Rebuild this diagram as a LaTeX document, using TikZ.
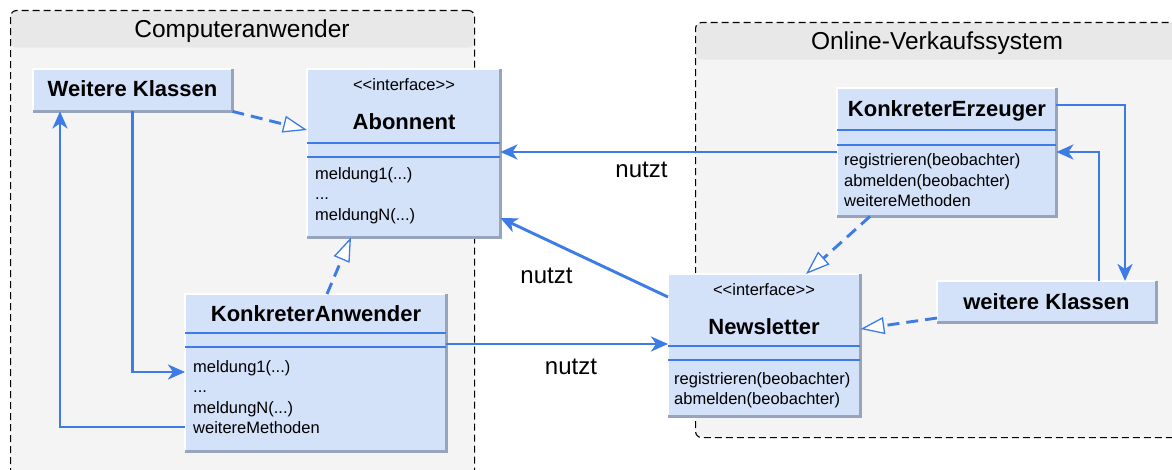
\documentclass[tikz,border=0pt]{standalone}
\usepackage{fontspec}
\setmainfont{Liberation Sans}
\usetikzlibrary{arrows.meta,calc}
\definecolor{conncol}{HTML}{3D7BE6}
\definecolor{boxfill}{HTML}{D3E1F9}
\definecolor{boxshade}{HTML}{98A4BC}
\definecolor{grouphead}{HTML}{E8E8E8}
\definecolor{groupbody}{HTML}{F4F4F4}
\begin{document}
\begin{tikzpicture}[x=1pt,y=-1pt,
  group/.style={draw=black, line width=1.1pt, dash pattern=on 7pt off 4pt, fill=groupbody,
    rounded corners=6pt, inner sep=0pt, anchor=north west,
    path picture={\fill[grouphead] (path picture bounding box.north west) rectangle ($(path picture bounding box.north east)+(0,37)$);}},
  grouptitle/.style={font=\fontsize{24.5}{28}\selectfont, anchor=base, inner sep=0pt},
  umlbox/.style={fill=boxfill, inner sep=0pt, anchor=north west},
  btitle/.style={font=\fontsize{22}{26}\selectfont\bfseries, anchor=base, inner sep=0pt},
  stereo/.style={font=\fontsize{16.5}{20}\selectfont, anchor=base, inner sep=0pt},
  meth/.style={font=\fontsize{16.5}{20}\selectfont, anchor=base west, inner sep=0pt},
  lbl/.style={font=\fontsize{24}{28}\selectfont, anchor=base, inner sep=0pt},
  sep/.style={draw=conncol, line width=1.4pt},
  link/.style={draw=conncol, line width=2.9pt},
  dep/.style={link, dash pattern=on 12pt off 7pt},
  filled/.style={-{Stealth[length=17pt,width=15pt,inset=5pt]}},
  hollow/.style={-{Triangle[open,length=24pt,width=17pt,line width=1.3pt,fill=white]}}
]
\useasboundingbox (0,0) rectangle (1172,470);

% groups
\node[group, minimum width=464pt, minimum height=490pt] (grpL) at (10,10) {};
\node[grouptitle] (grpLt) at (242,37.5) {Computeranwender};
\node[group, minimum width=490pt, minimum height=415pt] (grpR) at (695,22) {};
\node[grouptitle] (grpRt) at (937,50) {Online-Verkaufssystem};

% boxes
\node[umlbox, minimum width=199pt, minimum height=42pt] (wk) at (33,69) {};
\node[umlbox, minimum width=193pt, minimum height=168pt] (abo) at (307,69) {};
\node[umlbox, minimum width=261pt, minimum height=157pt] (ka) at (185,294) {};
\node[umlbox, minimum width=192pt, minimum height=142pt] (nl) at (668,274) {};
\node[umlbox, minimum width=219pt, minimum height=128pt] (ke) at (837,88) {};
\node[umlbox, minimum width=219pt, minimum height=41pt] (wk2) at (937,281) {};

\foreach \n in {wk,abo,ka,nl,ke,wk2}{
  \draw[white, line width=1.5pt] (\n.south west) -- (\n.north west) -- (\n.north east);
  \draw[boxshade, line width=2.5pt] (\n.north east) -- (\n.south east) -- (\n.south west);
}

% separators
\draw[sep] (abo.west |- 0,143) -- (abo.east |- 0,143);
\draw[sep] (abo.west |- 0,157) -- (abo.east |- 0,157);
\draw[sep] (ka.west |- 0,333) -- (ka.east |- 0,333);
\draw[sep] (ka.west |- 0,347) -- (ka.east |- 0,347);
\draw[sep] (nl.west |- 0,346) -- (nl.east |- 0,346);
\draw[sep] (nl.west |- 0,360) -- (nl.east |- 0,360);
\draw[sep] (ke.west |- 0,130) -- (ke.east |- 0,130);
\draw[sep] (ke.west |- 0,145) -- (ke.east |- 0,145);

% texts
\node[btitle] (wkt) at (132.5,96.5) {Weitere Klassen};
\node[stereo] (abos) at (404,91) {{<}{<}interface{>}{>}};
\node[btitle] (abot) at (404,129.5) {Abonnent};
\node[meth] (abom1) at (315,180) {meldung1(...)};
\node[meth] (abom2) at (315,200) {...};
\node[meth] (abom3) at (315,221) {meldungN(...)};

\node[btitle] (kat) at (316,321.5) {KonkreterAnwender};
\node[meth] (kam1) at (193,372) {meldung1(...)};
\node[meth] (kam2) at (193,392.5) {...};
\node[meth] (kam3) at (193,413) {meldungN(...)};
\node[meth] (kam4) at (193,433.5) {weitereMethoden};

\node[stereo] (nls) at (764,295) {{<}{<}interface{>}{>}};
\node[btitle] (nlt) at (764,334) {Newsletter};
\node[meth] (nlm1) at (674,384) {registrieren(beobachter)};
\node[meth] (nlm2) at (674,404) {abmelden(beobachter)};

\node[btitle] (ket) at (947,116.5) {KonkreterErzeuger};
\node[meth] (kem1) at (844,166) {registrieren(beobachter)};
\node[meth] (kem2) at (844,187) {abmelden(beobachter)};
\node[meth] (kem3) at (844,207) {weitereMethoden};

\node[btitle] (wk2t) at (1046.5,309) {weitere Klassen};

% connectors
\draw[dep, hollow] (wk.south east) -- (abo.west |- 0,130);
\draw[link, filled] (wk.south) |- (ka.west |- 0,372);
\draw[link, filled] (ka.west |- 0,427) -| ($(wk.south west)+(27,0)$);
\draw[dep, hollow] ($(ka.north west)+(142,0)$) -- ($(abo.south west)+(44,0)$);
\draw[link, filled] (ka.east |- 0,344) -- (nl.west |- 0,344);
\draw[link, filled] (nl.west |- 0,297) -- (abo.east |- 0,218);
\draw[link, filled] (ke.west |- 0,152) -- (abo.east |- 0,152);
\draw[dep, hollow] ($(ke.south west)+(33,0)$) -- ($(nl.north west)+(138,0)$);
\draw[dep, hollow] (wk2.west |- 0,318) -- (nl.east |- 0,329);
\draw[link, filled] (ke.east |- 0,105) -| ($(wk2.north west)+(188,0)$);
\draw[link, filled] ($(wk2.north west)+(162,0)$) |- (ke.east |- 0,152);

\node[lbl] (lbl1) at (641.5,177.5) {nutzt};
\node[lbl] (lbl2) at (546.5,283.5) {nutzt};
\node[lbl] (lbl3) at (571,374.5) {nutzt};
\end{tikzpicture}
\end{document}
